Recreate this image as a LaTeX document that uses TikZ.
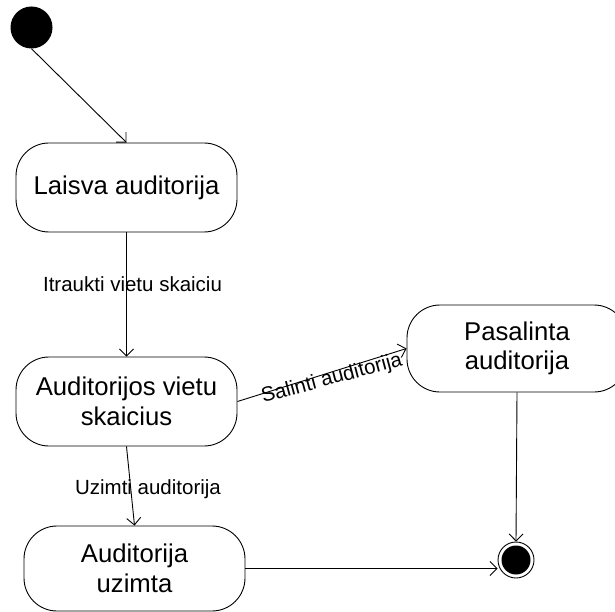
\documentclass[tikz,border=0pt]{standalone}
\usepackage{fontspec}
\setmainfont{Liberation Sans}
\usetikzlibrary{arrows.meta}

\tikzset{
  state/.style={draw, line width=0.9pt, rectangle, rounded corners=33pt,
    minimum width=221pt, minimum height=89pt, inner sep=0pt, align=center,
    font=\fontsize{25.7}{29.5}\selectfont},
  lbl/.style={inner sep=0pt, font=\fontsize{20.5}{24}\selectfont},
  arr/.style={line width=0.9pt, -{Straight Barb[length=7pt,width=14pt]}},
  startdot/.style={circle, fill=black, minimum size=42pt, inner sep=0pt},
  enddot/.style={circle, draw, line width=0.9pt, minimum size=36pt, inner sep=0pt,
    path picture={\fill (path picture bounding box.center) circle (14.5pt);}}
}

\begin{document}
\begin{tikzpicture}[x=1pt,y=-1pt]
  \useasboundingbox (0,0) rectangle (615,612);
  \clip (0,0) rectangle (615,612);

  % states
  \node[startdot] (init) at (31.5,27.5) {};
  \node[state] (laisva) at (126.5,187.5) {Laisva auditorija};
  \node[state] (avs) at (126.5,401.5) {Auditorijos vietu\\skaicius};
  \node[state, minimum width=220pt, minimum height=87pt] (pas) at (517,348.5) {Pasalinta\\auditorija};
  \node[state, minimum height=85pt] (uz) at (134.5,568.5) {Auditorija\\uzimta};
  \node[enddot] (fin) at (516,560) {};

  % transitions
  \draw[arr] (init.south) -- (laisva.north);
  \draw[arr] (laisva.south) -- (avs.north);
  \draw[arr] (avs.east) -- (pas.west);
  \draw[arr] (avs.south) -- (uz.north);
  \draw[arr] (pas.south) -- (fin.north);
  \draw[arr] (uz.east) -- (uz.east -| fin.west);

  % transition labels
  \node[lbl] (l1) at (132.5,284) {Itraukti vietu skaiciu};
  \node[lbl, rotate=15] (l2) at (332,379) {Salinti auditorija};
  \node[lbl] (l3) at (148,489.5) {Uzimti auditorija};
\end{tikzpicture}
\end{document}
